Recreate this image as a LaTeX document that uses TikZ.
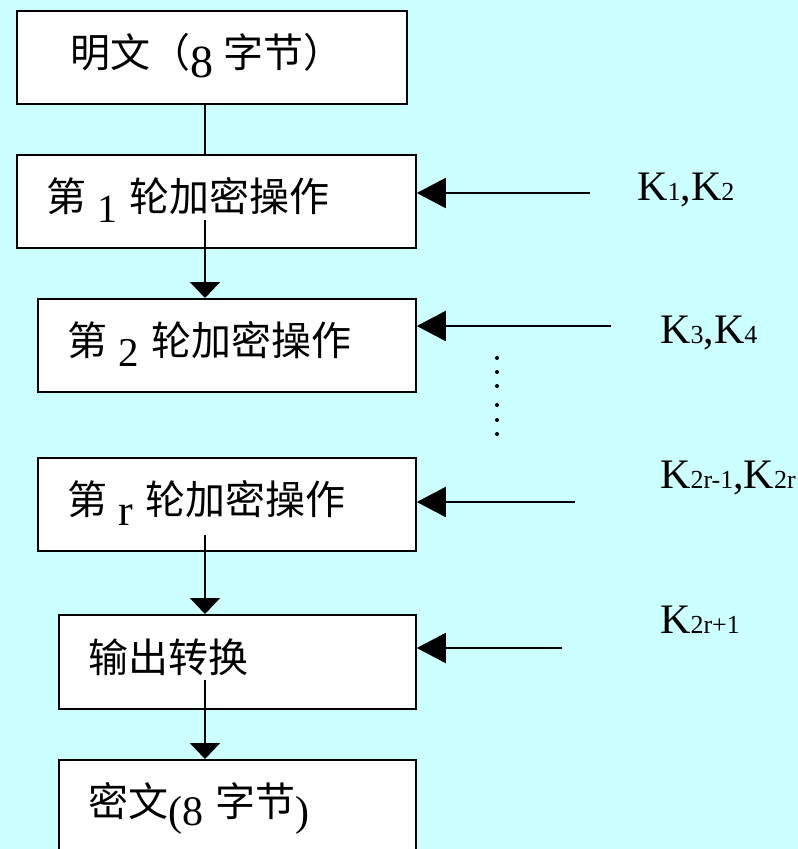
\documentclass[tikz,border=0pt]{standalone}
\usepackage{fontspec}
\usepackage{xcolor}
\usepackage{tikz}
\usetikzlibrary{positioning,calc,arrows.meta}
\newfontfamily\zhfont{Noto Sans CJK SC}
\newfontfamily\numfont{Liberation Serif}
\definecolor{bgcyan}{RGB}{204,255,255}
\newcommand{\lownum}[2][40]{\hspace{11pt}\raisebox{-11pt}{\numfont\fontsize{#1}{#1}\selectfont #2}\hspace{12pt}}
\newcommand{\ksub}[1]{{\fontsize{26}{26}\selectfont #1}}

\begin{document}
\begin{tikzpicture}[x=1pt,y=-1pt,
    stage/.style={draw, line width=1.8pt, fill=white, anchor=north west, minimum height=93pt, inner xsep=30pt, inner ysep=0pt, align=left, text height=21pt, text depth=0pt, font=\zhfont\fontsize{40}{48}\selectfont},
    keylabel/.style={anchor=base west, inner sep=0pt, font=\numfont\fontsize{42}{48}\selectfont},
    flow/.style={line width=2pt},
    flowarrow/.style={line width=2pt, -{Triangle[length=16pt,width=30pt]}},
    keyarrow/.style={line width=2pt, -{Triangle[length=29pt,width=30pt]}}]
    % Background
    \fill [bgcyan] (0,0) rectangle (798,849);
    \useasboundingbox (0,0) rectangle (798,849);

    % Stages
    \node [stage, inner xsep=54pt, text width=282pt] (plain) at (16,10) {明文（\raisebox{-10pt}{\numfont\fontsize{46}{46}\selectfont 8}\hspace{10pt}字节）};
    \node [stage, text width=339pt] (round1) at (16,154) {第\lownum{1}轮加密操作};
    \node [stage, text width=318pt] (round2) at (37,298) {第\lownum[41]{2}轮加密操作};
    \node [stage, text width=318pt] (roundr) at (37,457) {第\lownum[44]{r}轮加密操作};
    \node [stage, text width=297pt, minimum height=94pt] (outconv) at (58,614) {输出转换};
    \node [stage, text width=297pt] (cipher) at (58,759) {密文\raisebox{-9pt}{\numfont\fontsize{42}{42}\selectfont (8}\hspace{12pt}字节\raisebox{-9pt}{\numfont\fontsize{42}{42}\selectfont )}};

    % Main flow
    \coordinate (r1out) at (205,220);
    \coordinate (rrout) at (205,535);
    \coordinate (ocout) at (205,680);
    \draw [flow] (plain.south -| r1out) -- (round1.north -| r1out);
    \draw [flowarrow] (r1out) -- (round2.north -| r1out);
    \draw [flowarrow] (rrout) -- (outconv.north -| rrout);
    \draw [flowarrow] (ocout) -- (cipher.north -| ocout);

    % Subkeys
    \coordinate (k1) at (590,193);
    \coordinate (k2) at (611,326);
    \coordinate (kr) at (575,502);
    \coordinate (kout) at (562,648);
    \draw [keyarrow] (k1) -- (k1 -| round1.east);
    \draw [keyarrow] (k2) -- (k2 -| round2.east);
    \draw [keyarrow] (kr) -- (kr -| roundr.east);
    \draw [keyarrow] (kout) -- (kout -| outconv.east);
    \node [keylabel] (keys1) at (637,200) {K\ksub{1},K\ksub{2}};
    \node [keylabel] (keys2) at (660,343) {K\ksub{3},K\ksub{4}};
    \node [keylabel] (keysr) at (660,488) {K\ksub{2r-1},K\ksub{2r}};
    \node [keylabel] (keysout) at (660,633) {K\ksub{2r+1}};

    % Omitted rounds
    \foreach \y in {358,372,386,405,420,434}
        \fill (497,\y) circle (2pt);
\end{tikzpicture}
\end{document}
